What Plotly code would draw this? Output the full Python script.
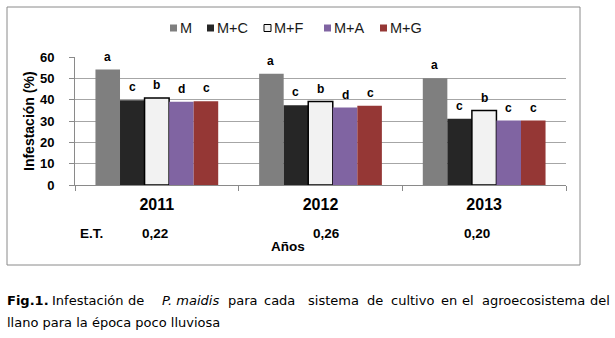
import plotly.graph_objects as go

# ---- data ----
years = ["2011", "2012", "2013"]
systems = ["M", "M+C", "M+F", "M+A", "M+G"]
infestation = {
    "M":   [54.1, 52.2, 50.0],
    "M+C": [39.7, 37.4, 31.0],
    "M+F": [40.8, 39.1, 34.9],
    "M+A": [39.0, 36.3, 30.2],
    "M+G": [39.3, 37.1, 30.2],
}
letters = {
    "M":   ["a", "a", "a"],
    "M+C": ["c", "c", "c"],
    "M+F": ["b", "b", "b"],
    "M+A": ["d", "d", "c"],
    "M+G": ["c", "c", "c"],
}
et_values = ["0,22", "0,26", "0,20"]

fill = {"M": "#7f7f7f", "M+C": "#262626", "M+F": "#f2f2f2",
        "M+A": "#8064a2", "M+G": "#953735"}

# ---- page geometry (pixels) ----
W, H = 615, 338
PL, PR, PT, PB = 75, 566, 57, 185   # plot area


def px(x):
    return (x - PL) / (PR - PL)


def py(y):
    return (PB - y) / (PB - PT)


fig = go.Figure()
for s in systems:
    fig.add_trace(go.Bar(
        x=years, y=infestation[s], name=s,
        marker=dict(color=fill[s],
                    line=dict(color="#000000" if s == "M+F" else fill[s],
                              width=1.5 if s == "M+F" else 0)),
        showlegend=False,
    ))

ann = []
# significance letters above each bar
n = len(systems)
for i, s in enumerate(systems):
    for j, yr in enumerate(years):
        ann.append(dict(
            x=j, y=infestation[s][j], xref="x", yref="y",
            text=f"<b>{letters[s][j]}</b>", showarrow=False,
            xshift=(i - (n - 1) / 2) * 24.8, yshift=13,
            xanchor="center", yanchor="middle",
            font=dict(family="Liberation Sans", size=12, color="#000000"),
        ))

# standard error row
bold = dict(family="Liberation Sans", size=13.5, color="#000000")
ann.append(dict(x=px(91), y=py(233), xref="paper", yref="paper", text="<b>E.T.</b>",
                showarrow=False, xanchor="center", yanchor="middle", font=bold))
et_x = [155, 326, 477]
for v, ex in zip(et_values, et_x):
    ann.append(dict(x=px(ex), y=py(233), xref="paper", yref="paper", text=f"<b>{v}</b>",
                    showarrow=False, xanchor="center", yanchor="middle", font=bold))
ann.append(dict(x=px(288), y=py(246), xref="paper", yref="paper", text="<b>Años</b>",
                showarrow=False, xanchor="center", yanchor="middle", font=bold))

# y axis title
ann.append(dict(x=px(29), y=py(121), xref="paper", yref="paper",
                text="<b>Infestación (%)</b>", textangle=-90, showarrow=False,
                xanchor="center", yanchor="middle",
                font=dict(family="Liberation Sans", size=14, color="#000000")))

# legend drawn as swatches + labels
shapes = []
leg_x = [170, 207, 264, 324, 380]
leg_y = 28
for s, lx in zip(systems, leg_x):
    shapes.append(dict(type="rect", xref="paper", yref="paper",
                       x0=px(lx), x1=px(lx + 7), y0=py(leg_y + 3.5), y1=py(leg_y - 3.5),
                       fillcolor=fill[s],
                       line=dict(color="#000000" if s == "M+F" else fill[s],
                                 width=1 if s == "M+F" else 0)))
    ann.append(dict(x=px(lx + 9), y=py(leg_y), xref="paper", yref="paper",
                    text=s, showarrow=False, xanchor="left", yanchor="middle",
                    font=dict(family="Liberation Sans", size=14.5, color="#1a1a1a")))

# chart frame
shapes.append(dict(type="rect", xref="paper", yref="paper",
                   x0=px(7), x1=px(580), y0=py(265), y1=py(7),
                   line=dict(color="#8a8a8a", width=1), fillcolor="rgba(0,0,0,0)",
                   layer="below"))

# caption, first line justified word by word (word centres)
cap = dict(family="DejaVu Sans", size=13, color="#000000")
line1 = [
    ("<b>Fig.1.</b>", 6, "left"), ("Infestación", 87, "center"), ("de", 136, "center"),
    ("<i>P. maidis</i>", 190, "center"), ("para", 243, "center"),
    ("cada", 279, "center"), ("sistema", 333, "center"), ("de", 375, "center"),
    ("cultivo", 412, "center"), ("en", 449, "center"), ("el", 468, "center"),
    ("agroecosistema", 533, "center"), ("del", 611, "right"),
]
for w, x0, anc in line1:
    ann.append(dict(x=px(x0), y=py(300), xref="paper", yref="paper", text=w,
                    showarrow=False, xanchor=anc, yanchor="middle", font=cap))
ann.append(dict(x=px(6), y=py(322), xref="paper", yref="paper",
                text="llano para la época poco lluviosa",
                showarrow=False, xanchor="left", yanchor="middle", font=cap))

for a in ann:
    a.setdefault("borderpad", 0)

fig.update_layout(
    width=W, height=H,
    margin=dict(l=PL, r=W - PR, t=PT, b=H - PB, pad=0),
    paper_bgcolor="white", plot_bgcolor="white",
    barmode="group", bargap=0.25, bargroupgap=0,
    annotations=ann, shapes=shapes,
    xaxis=dict(
        type="category", range=[-0.5, 2.5], showline=True, linecolor="#8a8a8a",
        linewidth=1, ticks="outside", tickson="boundaries", ticklen=5,
        tickcolor="#8a8a8a", tickangle=0, ticklabelstandoff=5,
        tickfont=dict(family="Liberation Sans", size=16, color="#000000"),
        tickmode="array", tickvals=years, ticktext=[f"<b>{y}</b>" for y in years],
        showgrid=False, zeroline=False,
    ),
    yaxis=dict(
        range=[0, 60], dtick=10, showline=True, linecolor="#8a8a8a", linewidth=1,
        ticks="outside", ticklen=5, tickcolor="#8a8a8a",
        showgrid=True, gridcolor="#a6a6a6", gridwidth=1, zeroline=False,
        tickfont=dict(family="Liberation Sans", size=13, color="#000000"),
        tickprefix="<b>", ticksuffix="</b>", ticklabelstandoff=12,
    ),
)

fig.write_html("out.html")
